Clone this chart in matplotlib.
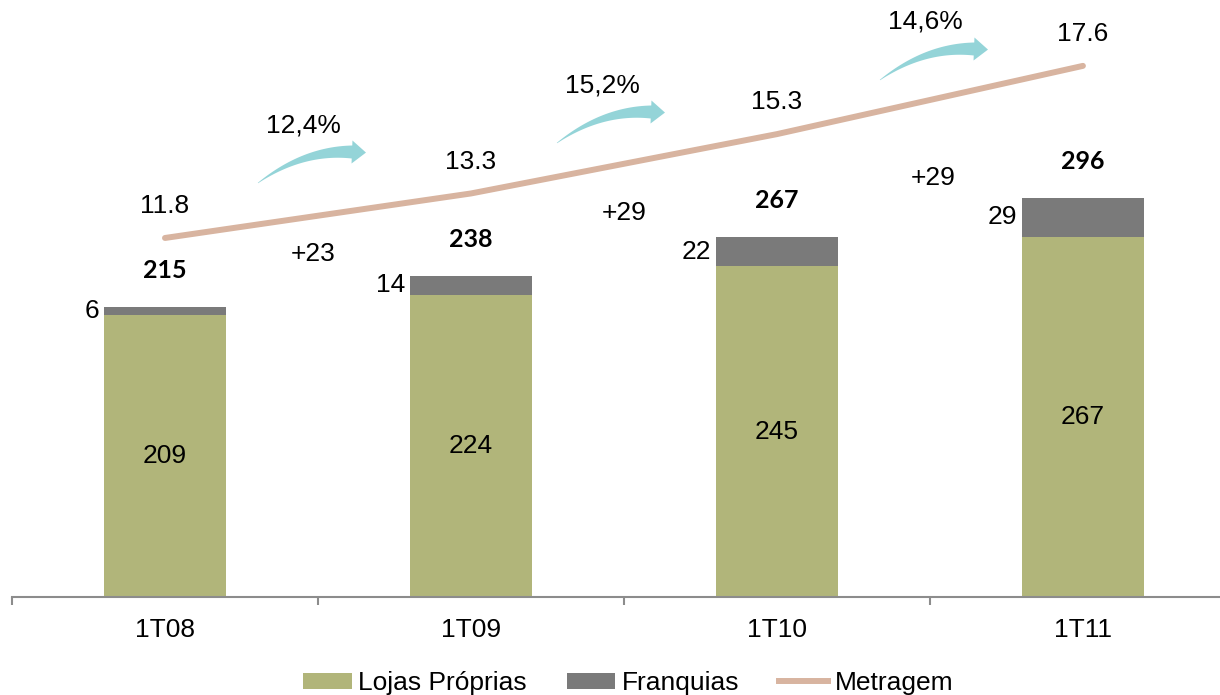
import numpy as np
import matplotlib
matplotlib.use("Agg")
import matplotlib.pyplot as plt
from matplotlib.patches import Polygon, Patch
from matplotlib.lines import Line2D

categories = ["1T08", "1T09", "1T10", "1T11"]
lojas = [209, 224, 245, 267]
franquias = [6, 14, 22, 29]
totais = [215, 238, 267, 296]
metragem = [11.8, 13.3, 15.3, 17.6]
crescimento = ["+23", "+29", "+29"]
pct = ["12,4%", "15,2%", "14,6%"]

GREEN = "#B1B57A"
GRAY = "#7A7A7A"
LINE = "#D8B4A0"
TEAL = "#94D4D8"
FONT = "Liberation Sans"
FS = 19

W, H = 1220, 695
fig = plt.figure(figsize=(W / 100, H / 100), dpi=100)
ax = fig.add_axes([12 / W, (H - 597) / H, 1 - 12 / W, 597 / H])
x = np.arange(len(categories))
bw = 0.4
ax.bar(x, lojas, bw, color=GREEN, zorder=2)
ax.bar(x, franquias, bw, bottom=lojas, color=GRAY, zorder=2)
ax.set_xlim(-0.5, 3.448)
ax.set_ylim(0, 442.5)
for s in ["left", "right", "top"]:
    ax.spines[s].set_visible(False)
ax.spines["bottom"].set_color("#8C8C8C")
ax.spines["bottom"].set_linewidth(1.5)
ax.set_yticks([])
ax.set_xticks(x)
ax.set_xticklabels(categories, fontsize=FS, family=FONT)
ax.tick_params(axis="x", which="major", length=0, pad=15)
ax.set_xticks(np.arange(-0.5, 3.5, 1), minor=True)
ax.tick_params(axis="x", which="minor", length=6, width=1.5, color="#8C8C8C", direction="out")

for i in range(len(categories)):
    ax.text(x[i], lojas[i] / 2, str(lojas[i]), ha="center", va="center",
            fontsize=FS, family=FONT, zorder=3)
    ax.annotate(str(franquias[i]), (x[i] - bw / 2, lojas[i] + franquias[i] / 2),
                xytext=(-3, 0), textcoords="offset points", ha="right", va="center",
                fontsize=FS, family=FONT)
    ax.annotate(str(totais[i]), (x[i], totais[i]), xytext=(0, 26),
                textcoords="offset points", ha="center", va="center",
                fontsize=18, family="Lato", fontweight="bold")

ax2 = ax.twinx()
ax2.set_ylim(-0.3, 19.82)
ax2.plot(x, metragem, color=LINE, lw=4.3, solid_capstyle="round", zorder=3)
ax2.axis("off")
for i in range(len(categories)):
    ax2.annotate(f"{metragem[i]:.1f}", (x[i], metragem[i]), xytext=(0, 23),
                 textcoords="offset points", ha="center", va="center",
                 fontsize=FS, family=FONT)

# overlay in pixel coordinates for decorations
ov = fig.add_axes([0, 0, 1, 1], zorder=5)
ov.set_xlim(0, W)
ov.set_ylim(H, 0)
ov.axis("off")
ov.patch.set_alpha(0)


def curved_arrow(axo, p0, p1, p2, w0, w1, head_w, head_len, color):
    p0, p1, p2 = map(np.asarray, (p0, p1, p2))
    t = np.linspace(0, 1, 50)[:, None]
    pts = (1 - t) ** 2 * p0 + 2 * (1 - t) * t * p1 + t ** 2 * p2
    d = 2 * (1 - t) * (p1 - p0) + 2 * t * (p2 - p1)
    d = d / np.linalg.norm(d, axis=1, keepdims=True)
    n = np.column_stack([d[:, 1], -d[:, 0]])
    w = (w0 + (w1 - w0) * t) / 2
    upper = pts + n * w
    lower = pts - n * w
    de, ne = d[-1], n[-1]
    tip = p2 + de * head_len
    hl = p2 + ne * head_w / 2
    hr = p2 - ne * head_w / 2
    poly = np.vstack([upper, hl, tip, hr, lower[::-1]])
    axo.add_patch(Polygon(poly, closed=True, facecolor=color, edgecolor="none"))


tails = [(258, 183), (557, 143), (880, 80)]
for i, (tx, ty) in enumerate(tails):
    curved_arrow(ov, (tx, ty), (tx + 45, ty - 33), (tx + 94, ty - 31),
                 0.5, 13, 23, 14, TEAL)
    ov.text(tx + 45, ty - 58, pct[i], ha="center", va="center", fontsize=FS, family=FONT)

grow_pos = [(313, 254), (624, 213), (933, 178)]
for (gx, gy), g in zip(grow_pos, crescimento):
    ov.text(gx, gy, g, ha="center", va="center", fontsize=FS, family=FONT)

handles = [Patch(facecolor=GREEN, label="Lojas Próprias"),
           Patch(facecolor=GRAY, label="Franquias"),
           Line2D([0], [0], color=LINE, lw=4.3, label="Metragem")]
fig.legend(handles=handles, loc="center", bbox_to_anchor=(628 / W, 1 - 683 / H),
           ncol=3, frameon=False, prop={"family": FONT, "size": FS},
           handlelength=1.85, handleheight=0.55, handletextpad=0.25, columnspacing=1.5,
           borderaxespad=0, borderpad=0)

fig.savefig("out.png", dpi=100)
